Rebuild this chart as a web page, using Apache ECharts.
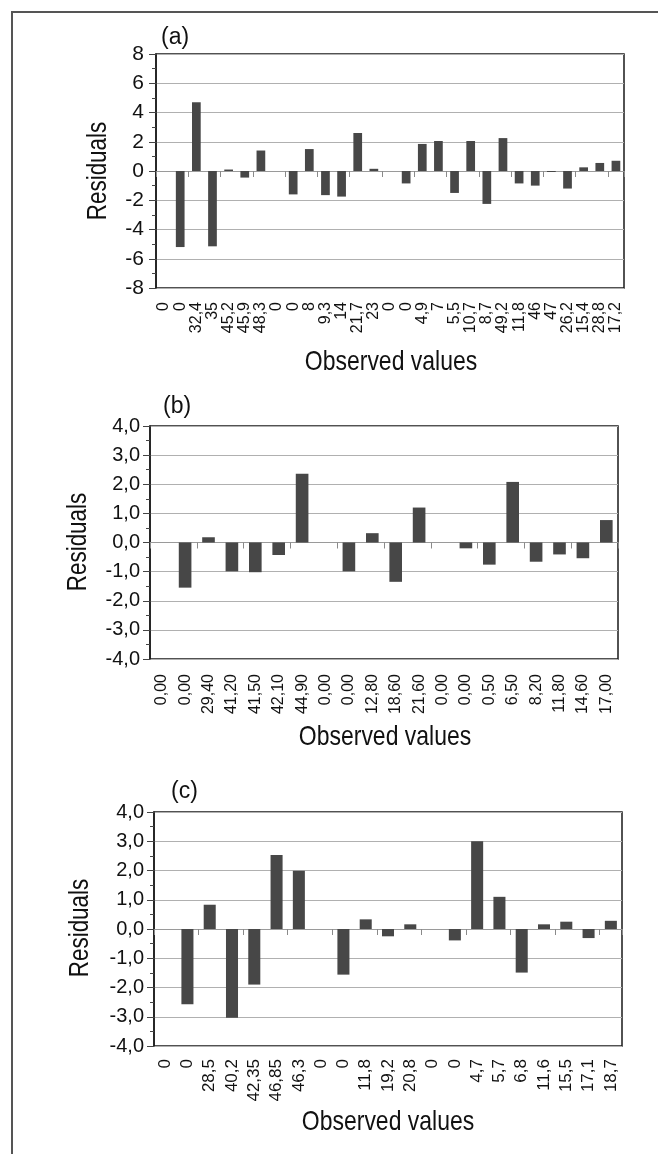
<!DOCTYPE html>
<html>
<head>
<meta charset="utf-8">
<script src="https://cdn.jsdelivr.net/npm/echarts@6/dist/echarts.min.js"></script>
<style>
html,body{margin:0;padding:0;background:#fff;}
#c{width:658px;height:1154px;}
</style>
</head>
<body>
<div id="c"></div>
<script>
// ---- data ----
var catA = ['0','0','32,4','35','45,2','45,9','48,3','0','0','8','9,3','14','21,7','23','0','0','4,9','7','5,5','10,7','8,7','49,2','11,8','46','47','26,2','15,4','28,8','17,2'];
var resA = [0,-5.2,4.7,-5.15,0.1,-0.45,1.4,0,-1.6,1.5,-1.65,-1.75,2.6,0.15,0,-0.85,1.85,2.05,-1.5,2.05,-2.25,2.25,-0.85,-1.0,-0.07,-1.2,0.25,0.55,0.7];

var catB = ['0,00','0,00','29,40','41,20','41,50','42,10','44,90','0,00','0,00','12,80','18,60','21,60','0,00','0,00','0,50','6,50','8,20','11,80','14,60','17,00'];
var resB = [0,-1.55,0.18,-0.99,-1.02,-0.43,2.36,0,-0.99,0.32,-1.35,1.2,0,-0.2,-0.76,2.08,-0.66,-0.41,-0.54,0.77];

var catC = ['0','0','28,5','40,2','42,35','46,85','46,3','0','0','11,8','19,2','20,8','0','0','4,7','5,7','6,8','11,6','15,5','17,1','18,7'];
var resC = [0,-2.57,0.83,-3.03,-1.9,2.53,1.99,0,-1.56,0.33,-0.25,0.16,0,-0.39,3.0,1.1,-1.49,0.16,0.25,-0.31,0.28];

var panelLetters = ['(a)','(b)','(c)'];
var yTitle = 'Residuals';
var xTitle = 'Observed values';

// ---- layout ----
var FONT = "'Liberation Sans', Arial, sans-serif";
var panels = [
  {cats: catA, vals: resA, grid: {left:156, top:54, width:468, height:234}, min:-8, max:8, interval:2,
   fmt: function(v){return String(v);}, yFont:21, yMargin:12, xFont:16, xMargin:14,
   letter:[161,26], res:[98,171], obs:[391,362]},
  {cats: catB, vals: resB, grid: {left:150, top:426, width:468, height:233}, min:-4, max:4, interval:1,
   fmt: function(v){return v.toFixed(1).replace('.',',');}, yFont:20, yMargin:10, xFont:16, xMargin:15,
   letter:[163,395], res:[78,542], obs:[385,737]},
  {cats: catC, vals: resC, grid: {left:154, top:812, width:468, height:234}, min:-4, max:4, interval:1,
   fmt: function(v){return v.toFixed(1).replace('.',',');}, yFont:20, yMargin:10, xFont:17, xMargin:13,
   letter:[171,780], res:[80,928], obs:[388,1122]}
];

var grids = [], xAxes = [], yAxes = [], series = [], graphics = [];
panels.forEach(function(p, i){
  grids.push(Object.assign({show:true, borderColor:'#1a1a1a', borderWidth:1.5, backgroundColor:'#fff'}, p.grid));
  // label axis at bottom
  xAxes.push({type:'category', gridIndex:i, data:p.cats, position:'bottom',
    axisLine:{show:false, onZero:false}, axisTick:{show:false},
    axisLabel:{interval:0, rotate:90, margin:p.xMargin, fontSize:p.xFont, color:'#111', fontFamily:FONT}});
  // zero line axis with ticks
  xAxes.push({type:'category', gridIndex:i, data:p.cats, position:'bottom',
    axisLine:{show:true, onZero:true, lineStyle:{color:'#9a9a9a', width:1.2}},
    axisTick:{show:true, length:6, lineStyle:{color:'#8a8a8a', width:1}},
    axisLabel:{show:false}});
  yAxes.push({type:'value', gridIndex:i, min:p.min, max:p.max, interval:p.interval,
    axisLine:{show:true, lineStyle:{color:'#1a1a1a', width:1.5}},
    axisTick:{show:true, length:7, lineStyle:{color:'#444'}},
    minorTick:{show:true, splitNumber:2, length:4, lineStyle:{color:'#444'}},
    splitLine:{show:true, lineStyle:{color:'#b0b0b0', width:1.2}},
    axisLabel:{formatter:p.fmt, fontSize:p.yFont, fontFamily:FONT, color:'#111', margin:p.yMargin}});
  series.push({type:'bar', xAxisIndex:i*2, yAxisIndex:i, data:p.vals, barCategoryGap:'46%',
    itemStyle:{color:'#474747'}, silent:true});
  graphics.push({type:'text', left:p.letter[0], top:p.letter[1],
    style:{text:panelLetters[i], font:'23px ' + FONT, fill:'#111'}});
  graphics.push({type:'text', x:p.res[0], y:p.res[1], rotation:Math.PI/2, scaleX:0.8,
    style:{text:yTitle, font:'28px ' + FONT, fill:'#111', align:'center', verticalAlign:'middle'}});
  graphics.push({type:'text', x:p.obs[0], y:p.obs[1], scaleX:0.82,
    style:{text:xTitle, font:'28px ' + FONT, fill:'#111', align:'center', verticalAlign:'middle'}});
});
// outer frame (top and left edges)
graphics.push({type:'polyline', shape:{points:[[12,1154],[12,12],[658,12]]},
  style:{stroke:'#555', lineWidth:2, fill:null}});

var chart = echarts.init(document.getElementById('c'), null, {renderer:'canvas'});
chart.setOption({
  animation:false,
  backgroundColor:'#fff',
  grid:grids, xAxis:xAxes, yAxis:yAxes, series:series, graphic:graphics
});
</script>
</body>
</html>
